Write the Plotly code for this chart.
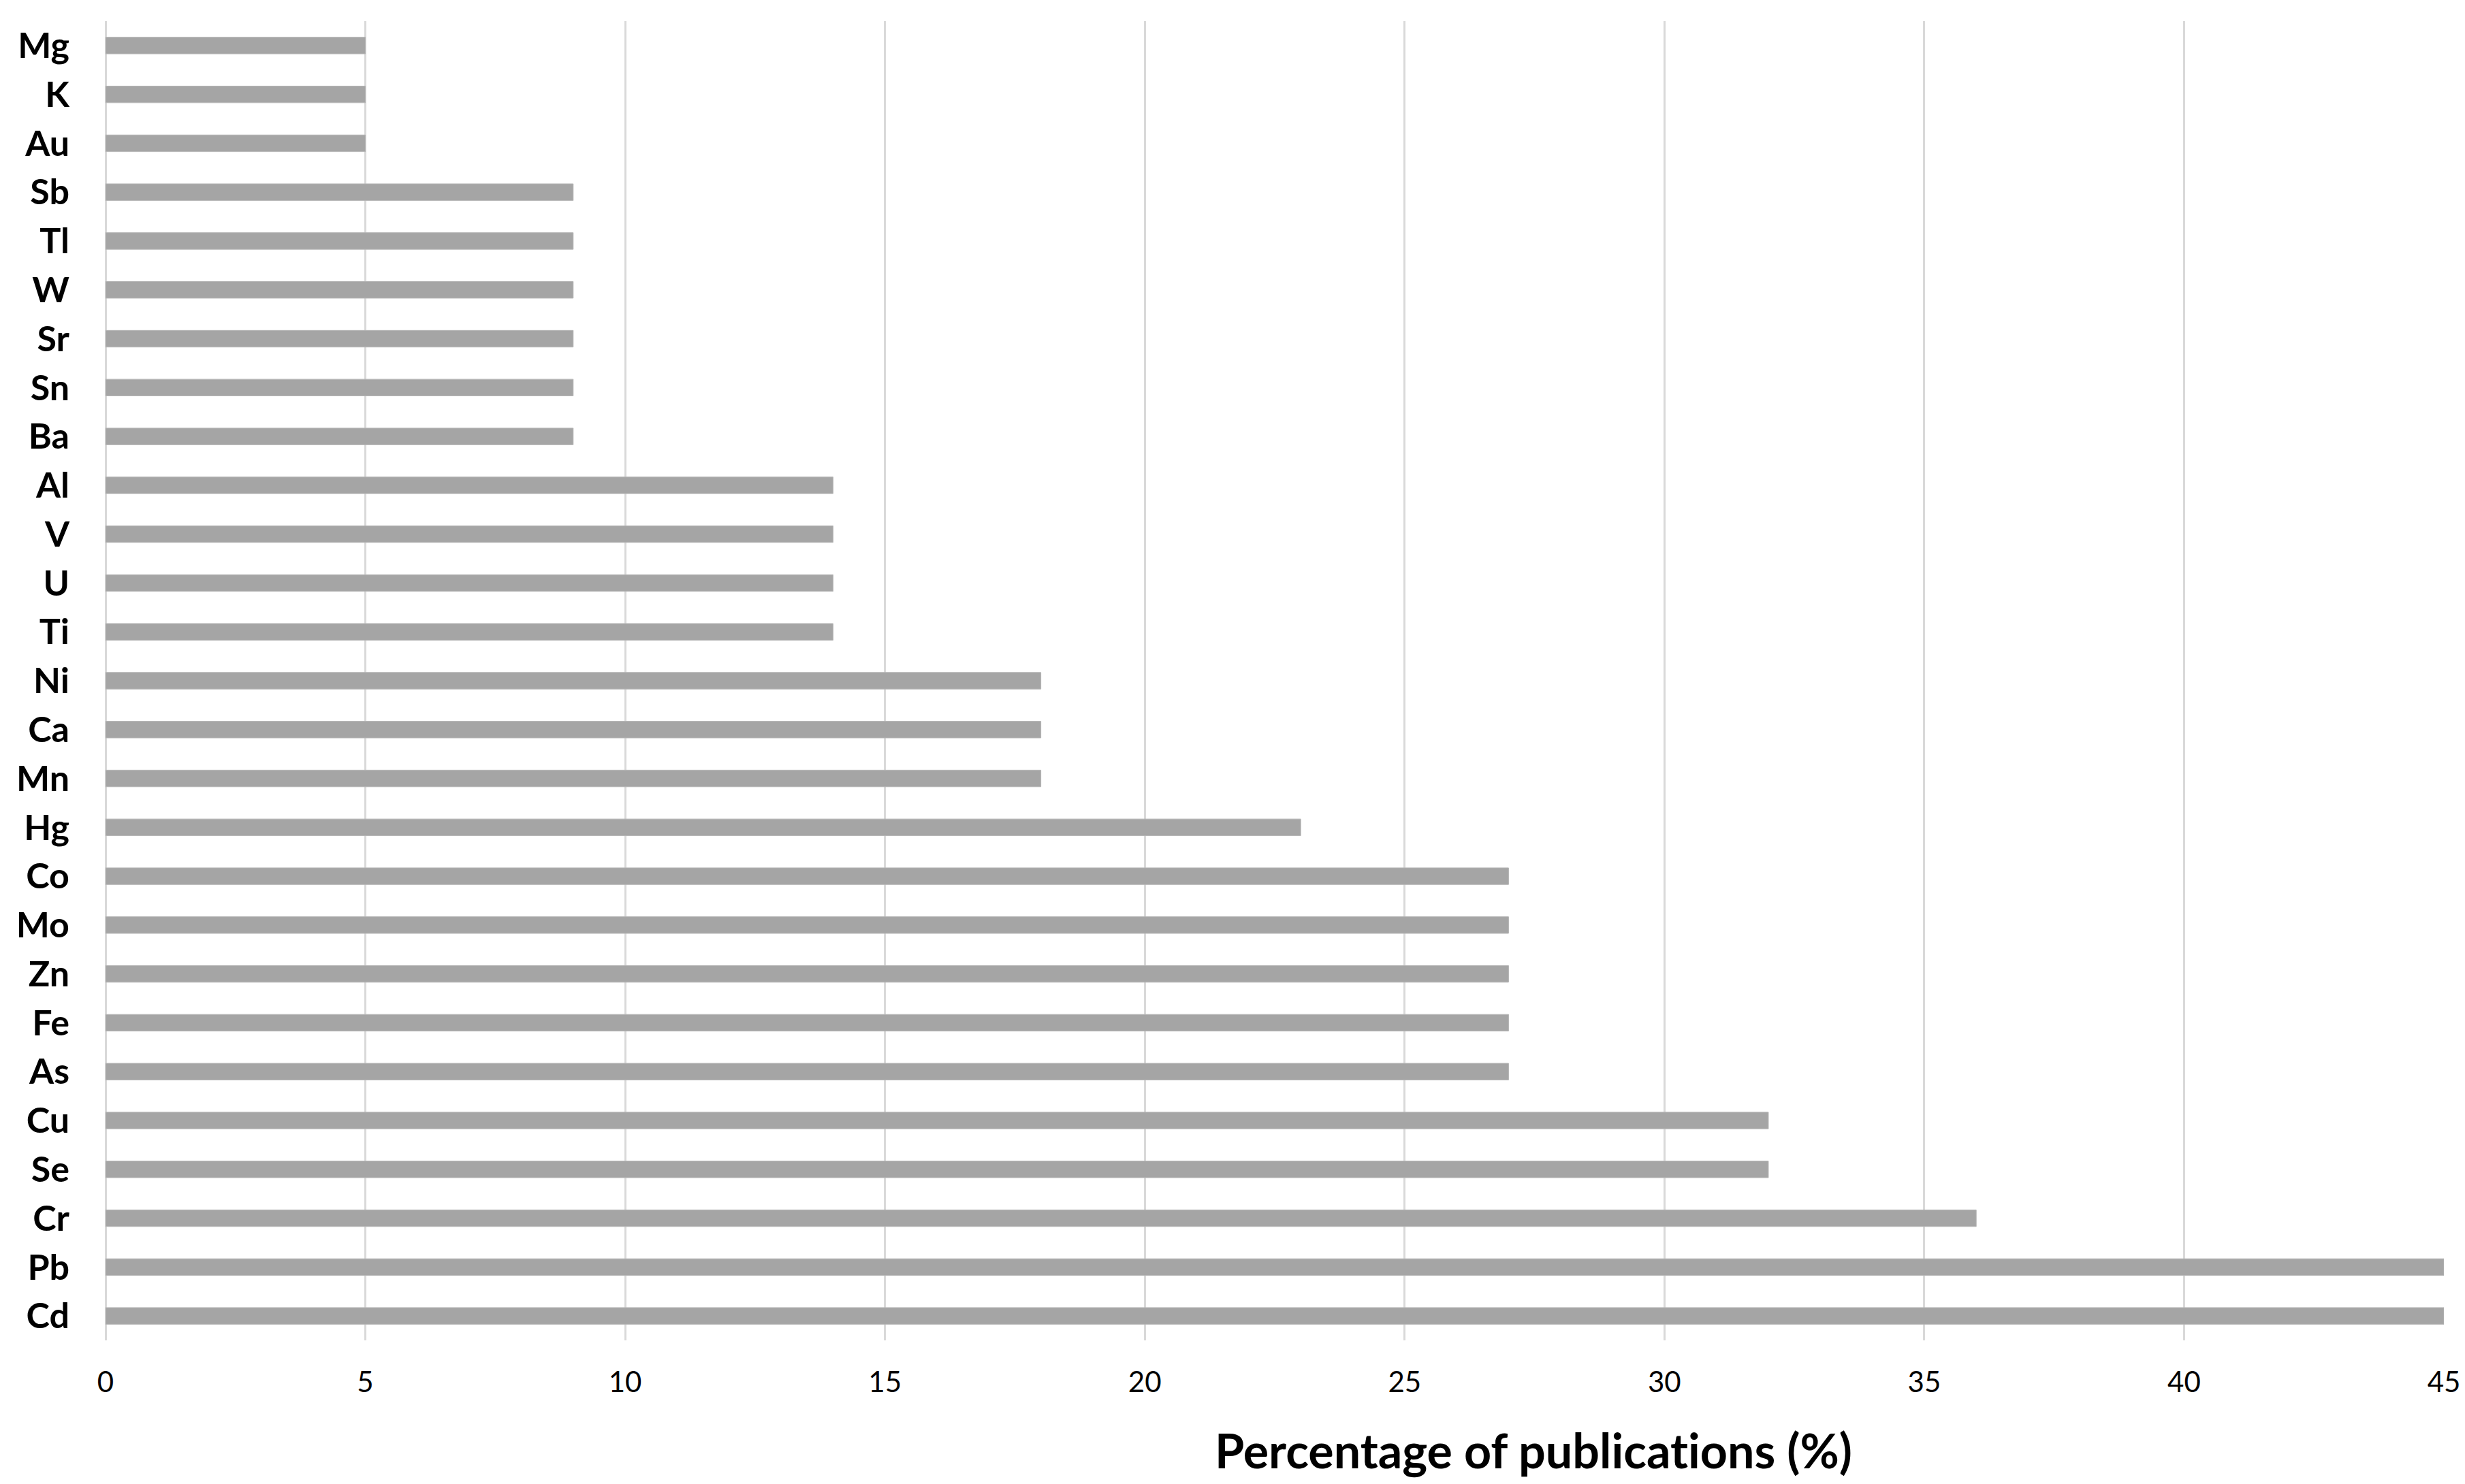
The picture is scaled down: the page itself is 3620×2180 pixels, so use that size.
import plotly.graph_objects as go

elements = ["Cd", "Pb", "Cr", "Se", "Cu", "As", "Fe", "Zn", "Mo", "Co", "Hg",
            "Mn", "Ca", "Ni", "Ti", "U", "V", "Al", "Ba", "Sn", "Sr", "W",
            "Tl", "Sb", "Au", "K", "Mg"]
percentages = [45, 45, 36, 32, 32, 27, 27, 27, 27, 27, 23,
               18, 18, 18, 14, 14, 14, 14, 9, 9, 9, 9,
               9, 9, 5, 5, 5]
x_ticks = [0, 5, 10, 15, 20, 25, 30, 35, 40, 45]
x_title = "Percentage of publicat\u200cions (%)"

W, H = 3620, 2180
L, R, T, B = 147, 39, 23, 219

fig = go.Figure(go.Bar(
    x=percentages, y=elements, orientation="h",
    marker=dict(color="#A5A5A5", line=dict(color="#B5B5B5", width=1)),
))

fig.update_layout(
    width=W, height=H,
    margin=dict(l=L, r=R, t=T, b=B),
    paper_bgcolor="white", plot_bgcolor="white",
    bargap=0.66, showlegend=False,
    font=dict(family="Lato, 'Open Sans', sans-serif", color="#000000"),
)
fig.update_xaxes(
    range=[0, 45], tickvals=x_ticks, ticks="", showline=False,
    showgrid=True, gridcolor="#D9D9D9", gridwidth=3,
    zeroline=True, zerolinecolor="#D9D9D9", zerolinewidth=3,
    tickfont=dict(size=42, family="Lato, sans-serif", color="#000000"),
    ticklabelstandoff=33,
)
fig.update_yaxes(
    type="category", categoryorder="array", categoryarray=elements,
    range=[-0.5, len(elements) - 0.5],
    ticks="", showline=False, showgrid=False,
    tickfont=dict(size=52, family="Lato, sans-serif", color="#000000", weight="bold"),
    ticklabelstandoff=52,
)
fig.add_annotation(
    text="<b>" + x_title + "</b>", xref="paper", yref="paper",
    x=(2244 - L) / (W - L - R), y=-(2122 - (H - B)) / (H - T - B),
    xanchor="center", yanchor="middle", showarrow=False,
    font=dict(size=70, family="Lato, sans-serif", color="#000000"),
)
fig.write_html("out.html")
